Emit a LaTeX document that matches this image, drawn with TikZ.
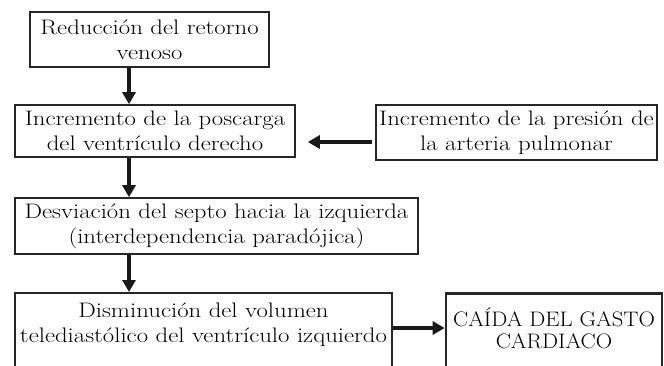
\documentclass[tikz,border=0pt]{standalone}
\usepackage{fontspec}
\setmainfont{Latin Modern Roman}[FakeStretch=1.18]
\newfontfamily\capsfont{Latin Modern Roman}[FakeStretch=1.08]
\usetikzlibrary{arrows.meta,calc}
\begin{document}
\begin{tikzpicture}[x=1pt,y=-1pt,
  box/.style={draw=black!85, line width=1.6pt, inner sep=0pt, align=center,
    font=\fontsize{21}{25}\selectfont},
  txt/.style={inner sep=0pt, align=center, font=\fontsize{21}{25}\selectfont},
  arr/.style={line width=4pt, draw=black!90,
    -{Triangle[width=13pt,length=12pt]}}]
\useasboundingbox (0,0) rectangle (664,365);
\clip (0,0) rectangle (664,365);
\coordinate (ax) at (129,0);
\coordinate (ay1) at (0,142);
\coordinate (ay2) at (0,328);
\node[box, minimum width=239pt, minimum height=55pt] (b1) at (149.5,39.5)
  {Reducción del retorno\\venoso};
\node[box, minimum width=280pt, minimum height=52pt] (b2) at (155,131)
  {Incremento de la poscarga\\del ventrículo derecho};
\node[box, minimum width=281pt, minimum height=55pt] (b3) at (516.5,132.5)
  {Incremento de la presión de\\la arteria pulmonar};
\node[box, minimum width=403pt, minimum height=56pt] (b4) at (216.5,226)
  {Desviación del septo hacia la izquierda\\(interdependencia paradójica)};
\node[box, minimum width=377pt, minimum height=100pt, anchor=north] (b5) at (203.5,292) {};
\node[txt] (t5) at (203.5,325)
  {Disminución del volumen\\telediastólico del ventrículo izquierdo};
\node[box, line width=2.6pt, minimum width=216pt, minimum height=100pt, anchor=north] (b6) at (554,292) {};
\node[txt, font=\capsfont\fontsize{21}{22}\selectfont] (t6) at (554,328)
  {CAÍDA DEL GASTO\\CARDIACO};
\draw[arr] (b1.south -| ax) -- (b2.north -| ax);
\draw[arr] (b2.south -| ax) -- (b4.north -| ax);
\draw[arr] (b4.south -| ax) -- (b5.north -| ax);
\draw[arr, shorten <=3pt, shorten >=12pt] (b3.west |- ay1) -- (b2.east |- ay1);
\draw[arr] (b5.east |- ay2) -- (b6.west |- ay2);
\end{tikzpicture}
\end{document}
